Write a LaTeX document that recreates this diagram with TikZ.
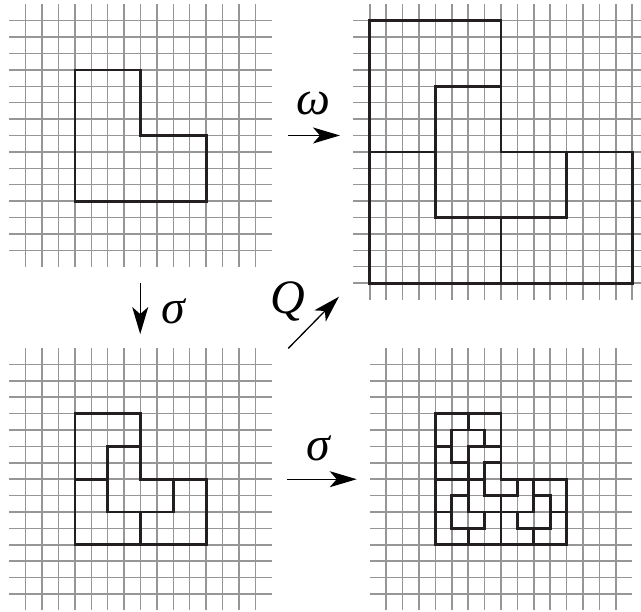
\documentclass[tikz,border=0pt]{standalone}
\usepackage{fontspec}
\setmainfont{Liberation Serif}
\usetikzlibrary{arrows.meta}
\definecolor{gridgray}{RGB}{150,150,150}
\definecolor{tileblack}{RGB}{35,31,32}
\tikzset{
  gridline/.style={draw=gridgray, line width=1.5pt},
  tile/.style={draw=tileblack, line width=2.8pt, line join=miter},
  maparrow/.style={draw=black, line width=1.3pt, -{Stealth[length=27pt,width=16pt,inset=7pt]}},
  maplabel/.style={inner sep=0pt, font=\fontsize{48}{52}\selectfont\itshape},
}
% L-shaped tile in square [x,x+s]x[y,y+s] (y downward), missing one quadrant
\newcommand\LTR[3]{\draw[tile] (#1,#2) -- ++({#3/2},0) -- ++(0,{#3/2}) -- ++({#3/2},0) -- ++(0,{#3/2}) -- ++({-#3},0) -- cycle;}
\newcommand\LTL[3]{\draw[tile] ({#1+#3/2},#2) -- ++({#3/2},0) -- ++(0,#3) -- ++({-#3},0) -- ++(0,{-#3/2}) -- ++({#3/2},0) -- cycle;}
\newcommand\LBR[3]{\draw[tile] (#1,#2) -- ++(#3,0) -- ++(0,{#3/2}) -- ++({-#3/2},0) -- ++(0,{#3/2}) -- ++({-#3/2},0) -- cycle;}
\newcommand\LBL[3]{\draw[tile] (#1,#2) -- ++(#3,0) -- ++(0,#3) -- ++({-#3/2},0) -- ++(0,{-#3/2}) -- ++({-#3/2},0) -- cycle;}
\newcommand\stdgrid{%
  \foreach \i in {0,...,14} \draw[gridline] (\i,-1) -- (\i,15);
  \foreach \j in {0,...,14} \draw[gridline] (-1,\j) -- (15,\j);
}
\begin{document}
\begin{tikzpicture}[x=16.4pt, y=-16.4pt]
\useasboundingbox (0,0) rectangle (39.085,37.256);

% top left
\begin{scope}[shift={(1.567,1.262)}]
  \stdgrid
  \LTR{3}{3}{8}
\end{scope}

% top right
\begin{scope}[shift={(23.55,1.262)}]
  \foreach \i in {-1,...,15} \draw[gridline] (\i,-1) -- (\i,17);
  \foreach \j in {0,...,16} \draw[gridline] (-2,\j) -- (16,\j);
  \LTR{3}{4}{8}
  \LBR{-1}{0}{8}
  \LTR{-1}{8}{8}
  \LTL{7}{8}{8}
\end{scope}

% bottom left
\begin{scope}[shift={(1.567,22.22)}]
  \stdgrid
  \LTR{5}{5}{4}
  \LBR{3}{3}{4}
  \LTR{3}{7}{4}
  \LTL{7}{7}{4}
\end{scope}

% bottom right
\begin{scope}[shift={(23.55,22.22)}]
  \stdgrid
  \LTR{6}{6}{2} \LBR{5}{5}{2} \LTR{5}{7}{2} \LTL{7}{7}{2}
  \LBR{3}{3}{2} \LBR{4}{4}{2} \LBL{5}{3}{2} \LTR{3}{5}{2}
  \LTR{4}{8}{2} \LBR{3}{7}{2} \LTR{3}{9}{2} \LTL{5}{9}{2}
  \LTL{9}{9}{2} \LTL{8}{8}{2} \LBL{9}{7}{2} \LTR{7}{9}{2}
\end{scope}

% arrows and labels
\coordinate (w1) at (17.58,8.26);
\coordinate (w2) at (20.73,8.26);
\draw[maparrow] (w1) -- (w2);
\node[maplabel] (lomega) at (19.09,6.28) {ω};

\coordinate (s1) at (8.55,17.27);
\coordinate (s2) at (8.55,20.37);
\draw[maparrow] (s1) -- (s2);
\node[maplabel] (lsigmaa) at (10.55,18.96) {σ};

\coordinate (q1) at (17.58,21.24);
\coordinate (q2) at (20.67,18.09);
\draw[maparrow] (q1) -- (q2);
\node[maplabel] (lq) at (17.56,18.41) {Q};

\coordinate (t1) at (17.52,29.22);
\coordinate (t2) at (21.75,29.22);
\draw[maparrow] (t1) -- (t2);
\node[maplabel] (lsigmab) at (19.39,27.32) {σ};
\end{tikzpicture}
\end{document}
